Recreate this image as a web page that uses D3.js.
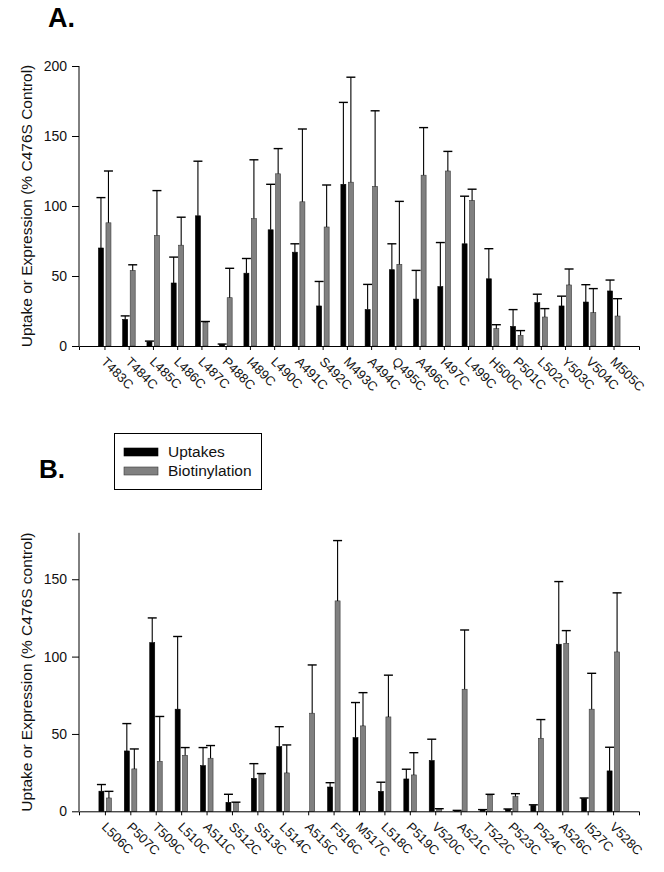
<!DOCTYPE html>
<html>
<head>
<meta charset="utf-8">
<script src="https://cdn.jsdelivr.net/npm/d3@7"></script>
<style>
  html, body { margin: 0; padding: 0; background: #fff; }
  svg { display: block; font-family: "Liberation Sans", Arial, sans-serif; }
</style>
</head>
<body>
<svg id="chart" width="664" height="872"></svg>
<script>
// ---------- DATA ----------
const categoriesA = ["T483C","T484C","L485C","L486C","L487C","P488C","I489C","L490C","A491C","S492C","M493C","A494C","Q495C","A496C","I497C","L499C","H500C","P501C","L502C","Y503C","V504C","M505C"];
const uptakeA     = [70, 19, 3, 45, 93, 1.2, 52, 83, 67, 28.6, 115.5, 26, 54.5, 33.5, 42.4, 73, 48, 14, 31, 28.6, 31.4, 39.3];
const uptakeSdA   = [36, 2.5, 0.5, 18.5, 39, 0.2, 10.5, 32.5, 6, 17.5, 58.5, 18, 18.5, 20.5, 31.5, 34, 21.5, 12, 6, 7, 12.4, 7.8];
const biotinA     = [88, 54, 79, 72, 17, 34.5, 91, 123, 103, 85, 117, 114, 58.3, 122, 125, 104, 12.4, 7.6, 20.7, 43.6, 23.8, 21.4];
const biotinSdA   = [37, 4, 32, 20, 0.5, 21, 42, 18, 52, 30, 75, 54, 45, 34, 14, 8, 2.8, 3.4, 6, 11.4, 17.2, 12.4];

const categoriesB = ["L506C","P507C","T509C","L510C","A511C","S512C","S513C","L514C","A515C","F516C","M517C","L518C","P519C","V520C","A521C","T522C","P523C","P524C","A526C","I527C","V528C"];
const uptakeB     = [13, 39, 109, 66, 29.5, 5.8, 21.3, 41.8, 0, 15.7, 47.6, 12.9, 20.9, 32.8, 0.4, 0.9, 1.3, 3.9, 108, 8.2, 26.1];
const uptakeSdB   = [4.3, 17.7, 16, 47, 11.7, 5.2, 9.5, 12.9, 0, 2.8, 22.7, 5.9, 6.3, 13.8, 0.2, 0.2, 0.2, 0.3, 40.5, 0.4, 15.3];
const biotinB     = [8.6, 27.4, 32.3, 36.2, 34.3, 5.6, 24.1, 24.8, 63.4, 136, 55.2, 61, 23.5, 1.5, 78.9, 10.5, 9.5, 47.2, 108.6, 66, 103];
const biotinSdB   = [4.3, 12.9, 29, 5, 8.2, 0.3, 0.3, 18.1, 31.2, 39, 21.5, 27, 14.4, 0.2, 38.3, 0.5, 1.9, 12.1, 8.2, 23.2, 38.2];

const yTicksA = [0, 50, 100, 150, 200];
const yTicksB = [0, 50, 100, 150];
const legendLabels = ["Uptakes", "Biotinylation"];
const yTitleA = "Uptake or Expression (% C476S Control)";
const yTitleB = "Uptake or Expression (% C476S control)";

// ---------- DRAW ----------
const svg = d3.select("#chart");
const BLACK = "#000000", GREY = "#808080";

function panel(cfg) {
  const g = svg.append("g");
  const x = d3.scalePoint().domain(cfg.cats).range([79, 639]).padding(cfg.pad);
  const y = d3.scaleLinear().domain([0, cfg.ymax]).range([cfg.y0, cfg.ytop]);

  const series = [
    {vals: cfg.up, sd: cfg.upSd, fill: BLACK, stroke: BLACK, off0: -6, off1: -1},
    {vals: cfg.bi, sd: cfg.biSd, fill: GREY, stroke: "#3a3a3a", off0: 1.5, off1: 6.5}
  ];
  series.forEach(s => {
    const data = cfg.cats.map((c, i) => ({c, v: s.vals[i], sd: s.sd[i]}));
    const sel = g.append("g");
    sel.selectAll("rect").data(data.filter(d => d.v > 0)).join("rect")
      .attr("x", d => x(d.c) + s.off0)
      .attr("width", s.off1 - s.off0)
      .attr("y", d => y(d.v))
      .attr("height", d => y(0) - y(d.v))
      .attr("fill", s.fill)
      .attr("stroke", s.stroke)
      .attr("stroke-width", 0.6);
    const cx = d => x(d.c) + (s.off0 + s.off1) / 2;
    const eb = data.filter(d => d.v > 0);
    sel.selectAll("line.v").data(eb).join("line").attr("class", "v")
      .attr("x1", cx).attr("x2", cx)
      .attr("y1", d => y(d.v)).attr("y2", d => y(d.v + d.sd))
      .attr("stroke", "#000").attr("stroke-width", 1.1);
    sel.selectAll("line.c").data(eb).join("line").attr("class", "c")
      .attr("x1", d => cx(d) - 4.5).attr("x2", d => cx(d) + 4.5)
      .attr("y1", d => y(d.v + d.sd)).attr("y2", d => y(d.v + d.sd))
      .attr("stroke", "#000").attr("stroke-width", 1.4);
  });

  const ya = g.append("g").attr("transform", "translate(79,0)")
    .call(d3.axisLeft(y).tickValues(cfg.yticks).tickSize(7).tickSizeOuter(0).tickPadding(5));
  ya.select(".domain").attr("stroke", "#000").attr("d", `M0,${cfg.ytop}V${cfg.y0}`);
  ya.selectAll("text").attr("font-size", 14).attr("font-family", "Liberation Sans, Arial, sans-serif").attr("fill", "#111");

  const xa = g.append("g").attr("transform", `translate(0,${cfg.y0})`)
    .call(d3.axisBottom(x).tickSize(4).tickSizeOuter(4));
  xa.selectAll(".tick text").remove();
  xa.selectAll(".tick").append("text")
    .attr("transform", "translate(-4.5,16.5) rotate(45)")
    .attr("text-anchor", "start")
    .attr("font-size", 13)
    .attr("font-family", "Liberation Sans, Arial, sans-serif")
    .attr("fill", "#111")
    .text(d => d);

  g.append("text")
    .attr("transform", `translate(31.5,${(cfg.y0 + cfg.ytop) / 2}) rotate(-90)`)
    .attr("text-anchor", "middle")
    .attr("font-size", 15.5)
    .attr("fill", "#111")
    .text(cfg.ytitle);

  g.append("text")
    .attr("x", cfg.lx).attr("y", cfg.ly)
    .attr("font-size", cfg.lsize).attr("font-weight", "bold")
    .attr("fill", "#000")
    .text(cfg.letter);
}

panel({cats: categoriesA, pad: 1.05, up: uptakeA, upSd: uptakeSdA, bi: biotinA, biSd: biotinSdA,
  ymax: 200, y0: 346, ytop: 66, yticks: yTicksA, ytitle: yTitleA, letter: "A.", lx: 48, ly: 27, lsize: 27});
panel({cats: categoriesB, pad: 1.02, up: uptakeB, upSd: uptakeSdB, bi: biotinB, biSd: biotinSdB,
  ymax: 180, y0: 811.3, ytop: 811.3 - 180 * 1.547, yticks: yTicksB, ytitle: yTitleB, letter: "B.", lx: 39, ly: 478, lsize: 26});

const lg = svg.append("g");
lg.append("rect").attr("x", 114.5).attr("y", 433.5).attr("width", 147).attr("height", 56)
  .attr("fill", "#fff").attr("stroke", "#000").attr("stroke-width", 1);
const swFill = [BLACK, GREY], swStroke = [BLACK, "#3a3a3a"];
legendLabels.forEach((lab, i) => {
  const yy = 448 + i * 19;
  lg.append("rect").attr("x", 124).attr("y", yy).attr("width", 34).attr("height", 8)
    .attr("fill", swFill[i]).attr("stroke", swStroke[i]).attr("stroke-width", 0.6);
  lg.append("text").attr("x", 168).attr("y", yy + 9).attr("font-size", 15.5).attr("fill", "#111").text(lab);
});
</script>
</body>
</html>
